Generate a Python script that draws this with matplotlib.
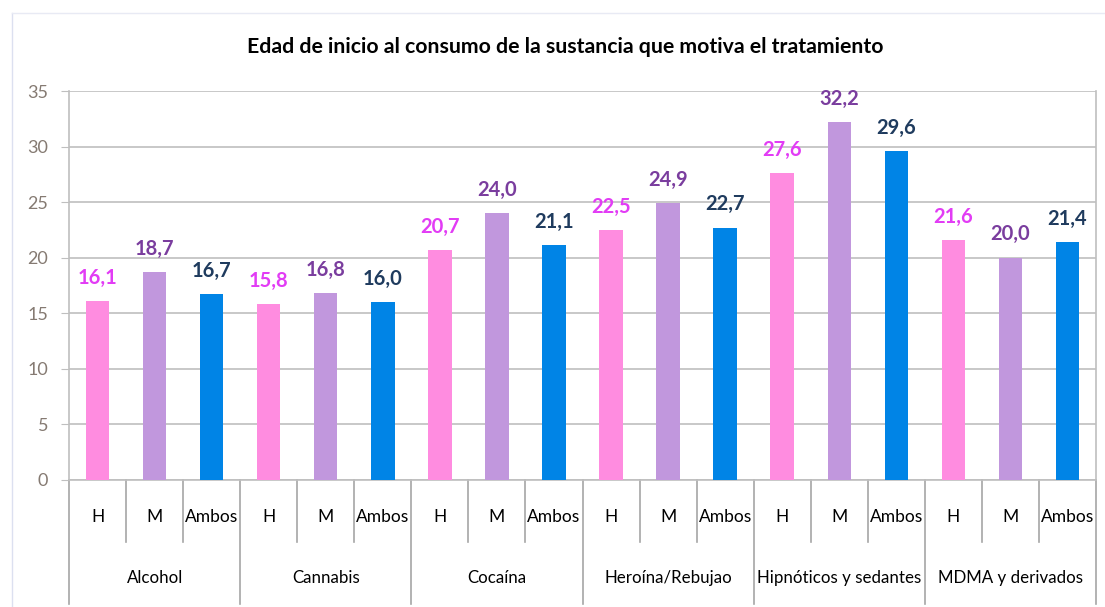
"""Edad de inicio al consumo de la sustancia que motiva el tratamiento."""

import matplotlib

matplotlib.use("Agg")
import matplotlib.pyplot as plt
import matplotlib.transforms as mtransforms

plt.rcParams["font.family"] = ["Lato", "DejaVu Sans"]

SUBSTANCES = [
    "Alcohol",
    "Cannabis",
    "Cocaína",
    "Heroína/Rebujao",
    "Hipnóticos y sedantes",
    "MDMA y derivados",
]
GROUPS = ["H", "M", "Ambos"]
H_VALUES = [16.1, 15.8, 20.7, 22.5, 27.6, 21.6]
M_VALUES = [18.7, 16.8, 24.0, 24.9, 32.2, 20.0]
AMBOS_VALUES = [16.7, 16.0, 21.1, 22.7, 29.6, 21.4]

BAR_COLORS = ["#FF8CE0", "#C197DD", "#0084E6"]
LABEL_COLORS = ["#E23CF5", "#7A3D9E", "#1F3B5E"]
GRID = "#BFBFBF"

W, H = 1105, 607
fig = plt.figure(figsize=(W / 100, H / 100), dpi=100)
ax = fig.add_axes([69 / W, (H - 480) / H, (1096 - 69) / W, (480 - 91) / H])

series = [H_VALUES, M_VALUES, AMBOS_VALUES]
n = len(SUBSTANCES)
for g, values in enumerate(series):
    xs = [i * 3 + g for i in range(n)]
    ax.bar(xs, values, width=0.41, color=BAR_COLORS[g], zorder=3)
    for x, v in zip(xs, values):
        ax.text(x, v + 1.2, f"{v:.1f}".replace(".", ","), ha="center",
                va="bottom", fontsize=14.5, fontweight="bold",
                color=LABEL_COLORS[g], zorder=4)

ax.set_xlim(-0.5, 3 * n - 0.5)
ax.set_ylim(0, 35)
ax.set_yticks(range(0, 36, 5))
ax.tick_params(axis="y", length=6, color=GRID, labelsize=13,
               labelcolor="#857A72", pad=9)
ax.yaxis.grid(True, color=GRID, linewidth=1.2, zorder=0)
ax.set_xticks([])
ax.spines["top"].set_visible(False)
for side in ("left", "right", "bottom"):
    ax.spines[side].set_color(GRID)
    ax.spines[side].set_linewidth(1.2)

# two-level category axis
trans = mtransforms.blended_transform_factory(ax.transData, ax.transAxes)
ax_h = 480 - 91
item_bottom = -62 / ax_h
group_bottom = -124 / ax_h
for k in range(3 * n + 1):
    x = k - 0.5
    y0 = group_bottom if k % 3 == 0 else item_bottom
    ax.plot([x, x], [0, y0], color="#A6A6A6", lw=1.2, transform=trans,
            clip_on=False)
for i, name in enumerate(SUBSTANCES):
    for g, lab in enumerate(GROUPS):
        ax.text(i * 3 + g, -37 / ax_h, lab, transform=trans, ha="center",
                va="center", fontsize=12.5, color="black")
    ax.text(i * 3 + 1, -98 / ax_h, name, transform=trans, ha="center",
            va="center", fontsize=12.2, color="black")

fig.text(565 / W, 1 - 47 / H,
         "Edad de inicio al consumo de la sustancia que motiva el tratamiento",
         ha="center", va="center", fontsize=15.3, fontweight="bold")

# faint chart-area border
fig.add_artist(plt.Line2D([12 / W, 12 / W], [0, 1 - 13 / H], color="#DCE0F0",
                          lw=1, transform=fig.transFigure))
fig.add_artist(plt.Line2D([12 / W, 1], [1 - 13 / H, 1 - 13 / H],
                          color="#E8EAF4", lw=1, transform=fig.transFigure))

fig.savefig("out.png", dpi=100)
